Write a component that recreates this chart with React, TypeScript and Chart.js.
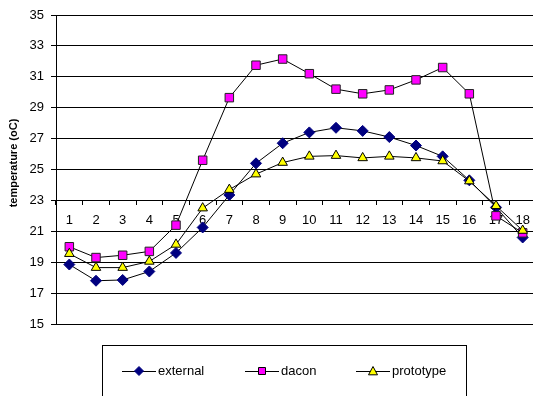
import React, { useEffect, useRef } from 'react';
import { Chart, registerables } from 'chart.js';

Chart.register(...registerables);

// Hour index along the category axis
const categories = ['1', '2', '3', '4', '5', '6', '7', '8', '9', '10', '11', '12', '13', '14', '15', '16', '17', '18'];

// Temperatures (oC)
const external = [18.85, 17.8, 17.85, 18.4, 19.6, 21.25, 23.35, 25.4, 26.7, 27.4, 27.7, 27.5, 27.1, 26.55, 25.85, 24.3, 22.55, 20.6];
const dacon = [20.0, 19.3, 19.45, 19.7, 21.4, 25.6, 29.65, 31.75, 32.15, 31.2, 30.2, 29.9, 30.15, 30.8, 31.6, 29.9, 22.0, 20.9];
const prototype = [19.55, 18.65, 18.65, 19.05, 20.15, 22.5, 23.7, 24.7, 25.45, 25.85, 25.9, 25.75, 25.85, 25.75, 25.55, 24.25, 22.65, 21.05];

// Value axis range
const yMin = 15;
const yMax = 35;
const yStep = 2;
const xAxisCrossing = 23;

const FONT = 'Arial, "Liberation Sans", sans-serif';
const W = 545;
const H = 396;

type Marker = 'rectRot' | 'rect' | 'triangle';

function drawMarker(ctx: CanvasRenderingContext2D, style: Marker, x: number, y: number, r: number, fill: string, stroke: string) {
  ctx.beginPath();
  if (style === 'rectRot') {
    ctx.moveTo(x, y - r);
    ctx.lineTo(x + r, y);
    ctx.lineTo(x, y + r);
    ctx.lineTo(x - r, y);
  } else if (style === 'rect') {
    ctx.rect(x - r, y - r, 2 * r, 2 * r);
  } else {
    ctx.moveTo(x, y - r);
    ctx.lineTo(x + r, y + r * 0.85);
    ctx.lineTo(x - r, y + r * 0.85);
  }
  ctx.closePath();
  ctx.fillStyle = fill;
  ctx.fill();
  ctx.strokeStyle = stroke;
  ctx.lineWidth = 1;
  ctx.stroke();
}

const legendItems = [
  { x: 122, label: 'external', marker: 'rectRot' as Marker, r: 4.5, fill: '#000080', stroke: '#000080' },
  { x: 245, label: 'dacon', marker: 'rect' as Marker, r: 3.5, fill: '#FF00FF', stroke: '#000' },
  { x: 356, label: 'prototype', marker: 'triangle' as Marker, r: 4.5, fill: '#FFFF00', stroke: '#000' },
];

const decorations = {
  id: 'decorations',
  afterDraw(chart: Chart) {
    const ctx = chart.ctx;
    // rotated value-axis title
    ctx.save();
    ctx.translate(14, 163);
    ctx.rotate(-Math.PI / 2);
    ctx.font = `bold 11px ${FONT}`;
    ctx.fillStyle = '#000';
    ctx.textAlign = 'center';
    ctx.textBaseline = 'middle';
    ctx.fillText('temperature (oC)', 0, 0);
    ctx.restore();

    // legend frame and entries
    ctx.save();
    ctx.strokeStyle = '#000';
    ctx.lineWidth = 1;
    ctx.strokeRect(102.5, 345.5, 364, 70);
    const cy = 371;
    legendItems.forEach((it) => {
      ctx.beginPath();
      ctx.moveTo(it.x, cy + 0.5);
      ctx.lineTo(it.x + 34, cy + 0.5);
      ctx.strokeStyle = '#000';
      ctx.stroke();
      drawMarker(ctx, it.marker, it.x + 17, cy, it.r, it.fill, it.stroke);
      ctx.font = `13px ${FONT}`;
      ctx.fillStyle = '#000';
      ctx.textAlign = 'left';
      ctx.textBaseline = 'middle';
      ctx.fillText(it.label, it.x + 36, cy);
    });
    ctx.restore();
  },
};

export default function App() {
  const ref = useRef<HTMLCanvasElement | null>(null);

  useEffect(() => {
    if (!ref.current) return;
    const chart = new Chart(ref.current, {
      type: 'line',
      data: {
        labels: categories,
        datasets: [
          {
            label: 'external',
            data: external,
            borderColor: '#000',
            borderWidth: 1,
            pointStyle: 'rectRot',
            pointRadius: 5.5,
            pointBackgroundColor: '#000080',
            pointBorderColor: '#000080',
            pointBorderWidth: 1,
            order: 3,
          },
          {
            label: 'dacon',
            data: dacon,
            borderColor: '#000',
            borderWidth: 1,
            pointStyle: 'rect',
            pointRadius: 6,
            pointBackgroundColor: '#FF00FF',
            pointBorderColor: '#222',
            pointBorderWidth: 1,
            order: 2,
          },
          {
            label: 'prototype',
            data: prototype,
            borderColor: '#000',
            borderWidth: 1,
            pointStyle: 'triangle',
            pointRadius: 5.5,
            pointBackgroundColor: '#FFFF00',
            pointBorderColor: '#000',
            pointBorderWidth: 1,
            order: 1,
          },
        ],
      },
      options: {
        animation: false,
        responsive: false,
        events: [],
        layout: { padding: { top: 15, bottom: 72, left: 0, right: 9 } },
        plugins: { legend: { display: false }, tooltip: { enabled: false } },
        scales: {
          x: {
            type: 'category',
            offset: true,
            position: { y: xAxisCrossing },
            grid: { display: true, drawOnChartArea: false, drawTicks: true, tickLength: 4, offset: true, color: '#000' },
            border: { display: true, color: '#000' },
            ticks: { color: '#000', font: { family: FONT, size: 13 }, padding: 8, autoSkip: false, maxRotation: 0 },
          },
          y: {
            min: yMin,
            max: yMax,
            ticks: { stepSize: yStep, color: '#000', font: { family: FONT, size: 13 }, padding: 7 },
            grid: { color: '#000', tickLength: 5 },
            border: { display: true, color: '#000' },
            afterFit(scale: any) {
              scale.width = 56;
            },
          },
        },
      },
      plugins: [decorations],
    });
    return () => chart.destroy();
  }, []);

  return (
    <div style={{ position: 'fixed', left: 0, top: 0, width: 533, height: 396, overflow: 'hidden', background: '#fff' }}>
      <canvas ref={ref} width={W} height={H} style={{ display: 'block', width: W, height: H }} />
    </div>
  );
}
